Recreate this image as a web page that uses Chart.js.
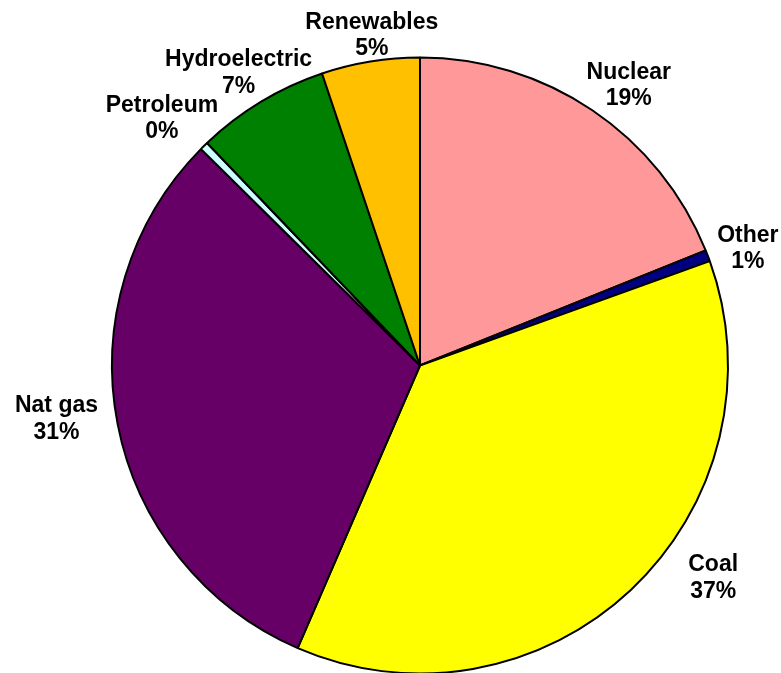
<!DOCTYPE html>
<html>
<head>
<meta charset="utf-8">
<script src="https://cdn.jsdelivr.net/npm/chart.js@4/dist/chart.umd.min.js"></script>
<style>
  html, body { margin: 0; padding: 0; background: #ffffff; overflow: hidden; }
  #wrap { width: 781px; height: 700px; }
</style>
</head>
<body>
<div id="wrap"><canvas id="c" width="781" height="700"></canvas></div>
<script>
// ---- data ----
const categories = ["Nuclear", "Other", "Coal", "Nat gas", "Petroleum", "Hydroelectric", "Renewables"];
const shares = [18.9, 0.6, 37.0, 30.9, 0.45, 7.0, 5.15];
const sliceColors = ["#FF9999", "#000080", "#FFFF00", "#660066", "#CCFFFF", "#008000", "#FFC000"];

// ---- label placement (polar, relative to each slice's mid-angle) ----
const labelAngleShiftDeg = [2.5, 1.0, -11.1, 2.9, -1.5, -0.5, 1.0];
const labelRadiusFactor = [1.139, 1.132, 1.172, 1.192, 1.164, 1.123, 1.089];

const total = shares.reduce((a, b) => a + b, 0);

const labelPlugin = {
  id: 'sliceLabels',
  afterDatasetsDraw(chart) {
    const ctx = chart.ctx;
    const meta = chart.getDatasetMeta(0);
    ctx.save();
    ctx.fillStyle = '#000000';
    ctx.font = 'bold 23px "Liberation Sans", Arial, sans-serif';
    ctx.textAlign = 'center';
    ctx.textBaseline = 'alphabetic';
    meta.data.forEach((arc, i) => {
      const p = arc.getProps(['x', 'y', 'startAngle', 'endAngle', 'outerRadius'], true);
      const mid = (p.startAngle + p.endAngle) / 2 + labelAngleShiftDeg[i] * Math.PI / 180;
      const d = p.outerRadius * labelRadiusFactor[i];
      const cx = p.x + Math.cos(mid) * d;
      const cy = p.y + Math.sin(mid) * d;
      const pct = Math.round(shares[i] / total * 100) + '%';
      ctx.fillText(categories[i], cx, cy - 5);
      ctx.fillText(pct, cx, cy + 21.5);
    });
    ctx.restore();
  }
};

new Chart(document.getElementById('c'), {
  type: 'pie',
  data: {
    labels: categories,
    datasets: [{
      data: shares,
      backgroundColor: sliceColors,
      borderColor: '#000000',
      borderWidth: 2,
      radius: 308
    }]
  },
  options: {
    responsive: false,
    animation: false,
    events: [],
    layout: { padding: { left: 111, right: 52, top: 56.5, bottom: 25.5 } },
    plugins: {
      legend: { display: false },
      tooltip: { enabled: false },
      title: { display: false }
    }
  },
  plugins: [labelPlugin]
});
</script>
</body>
</html>
